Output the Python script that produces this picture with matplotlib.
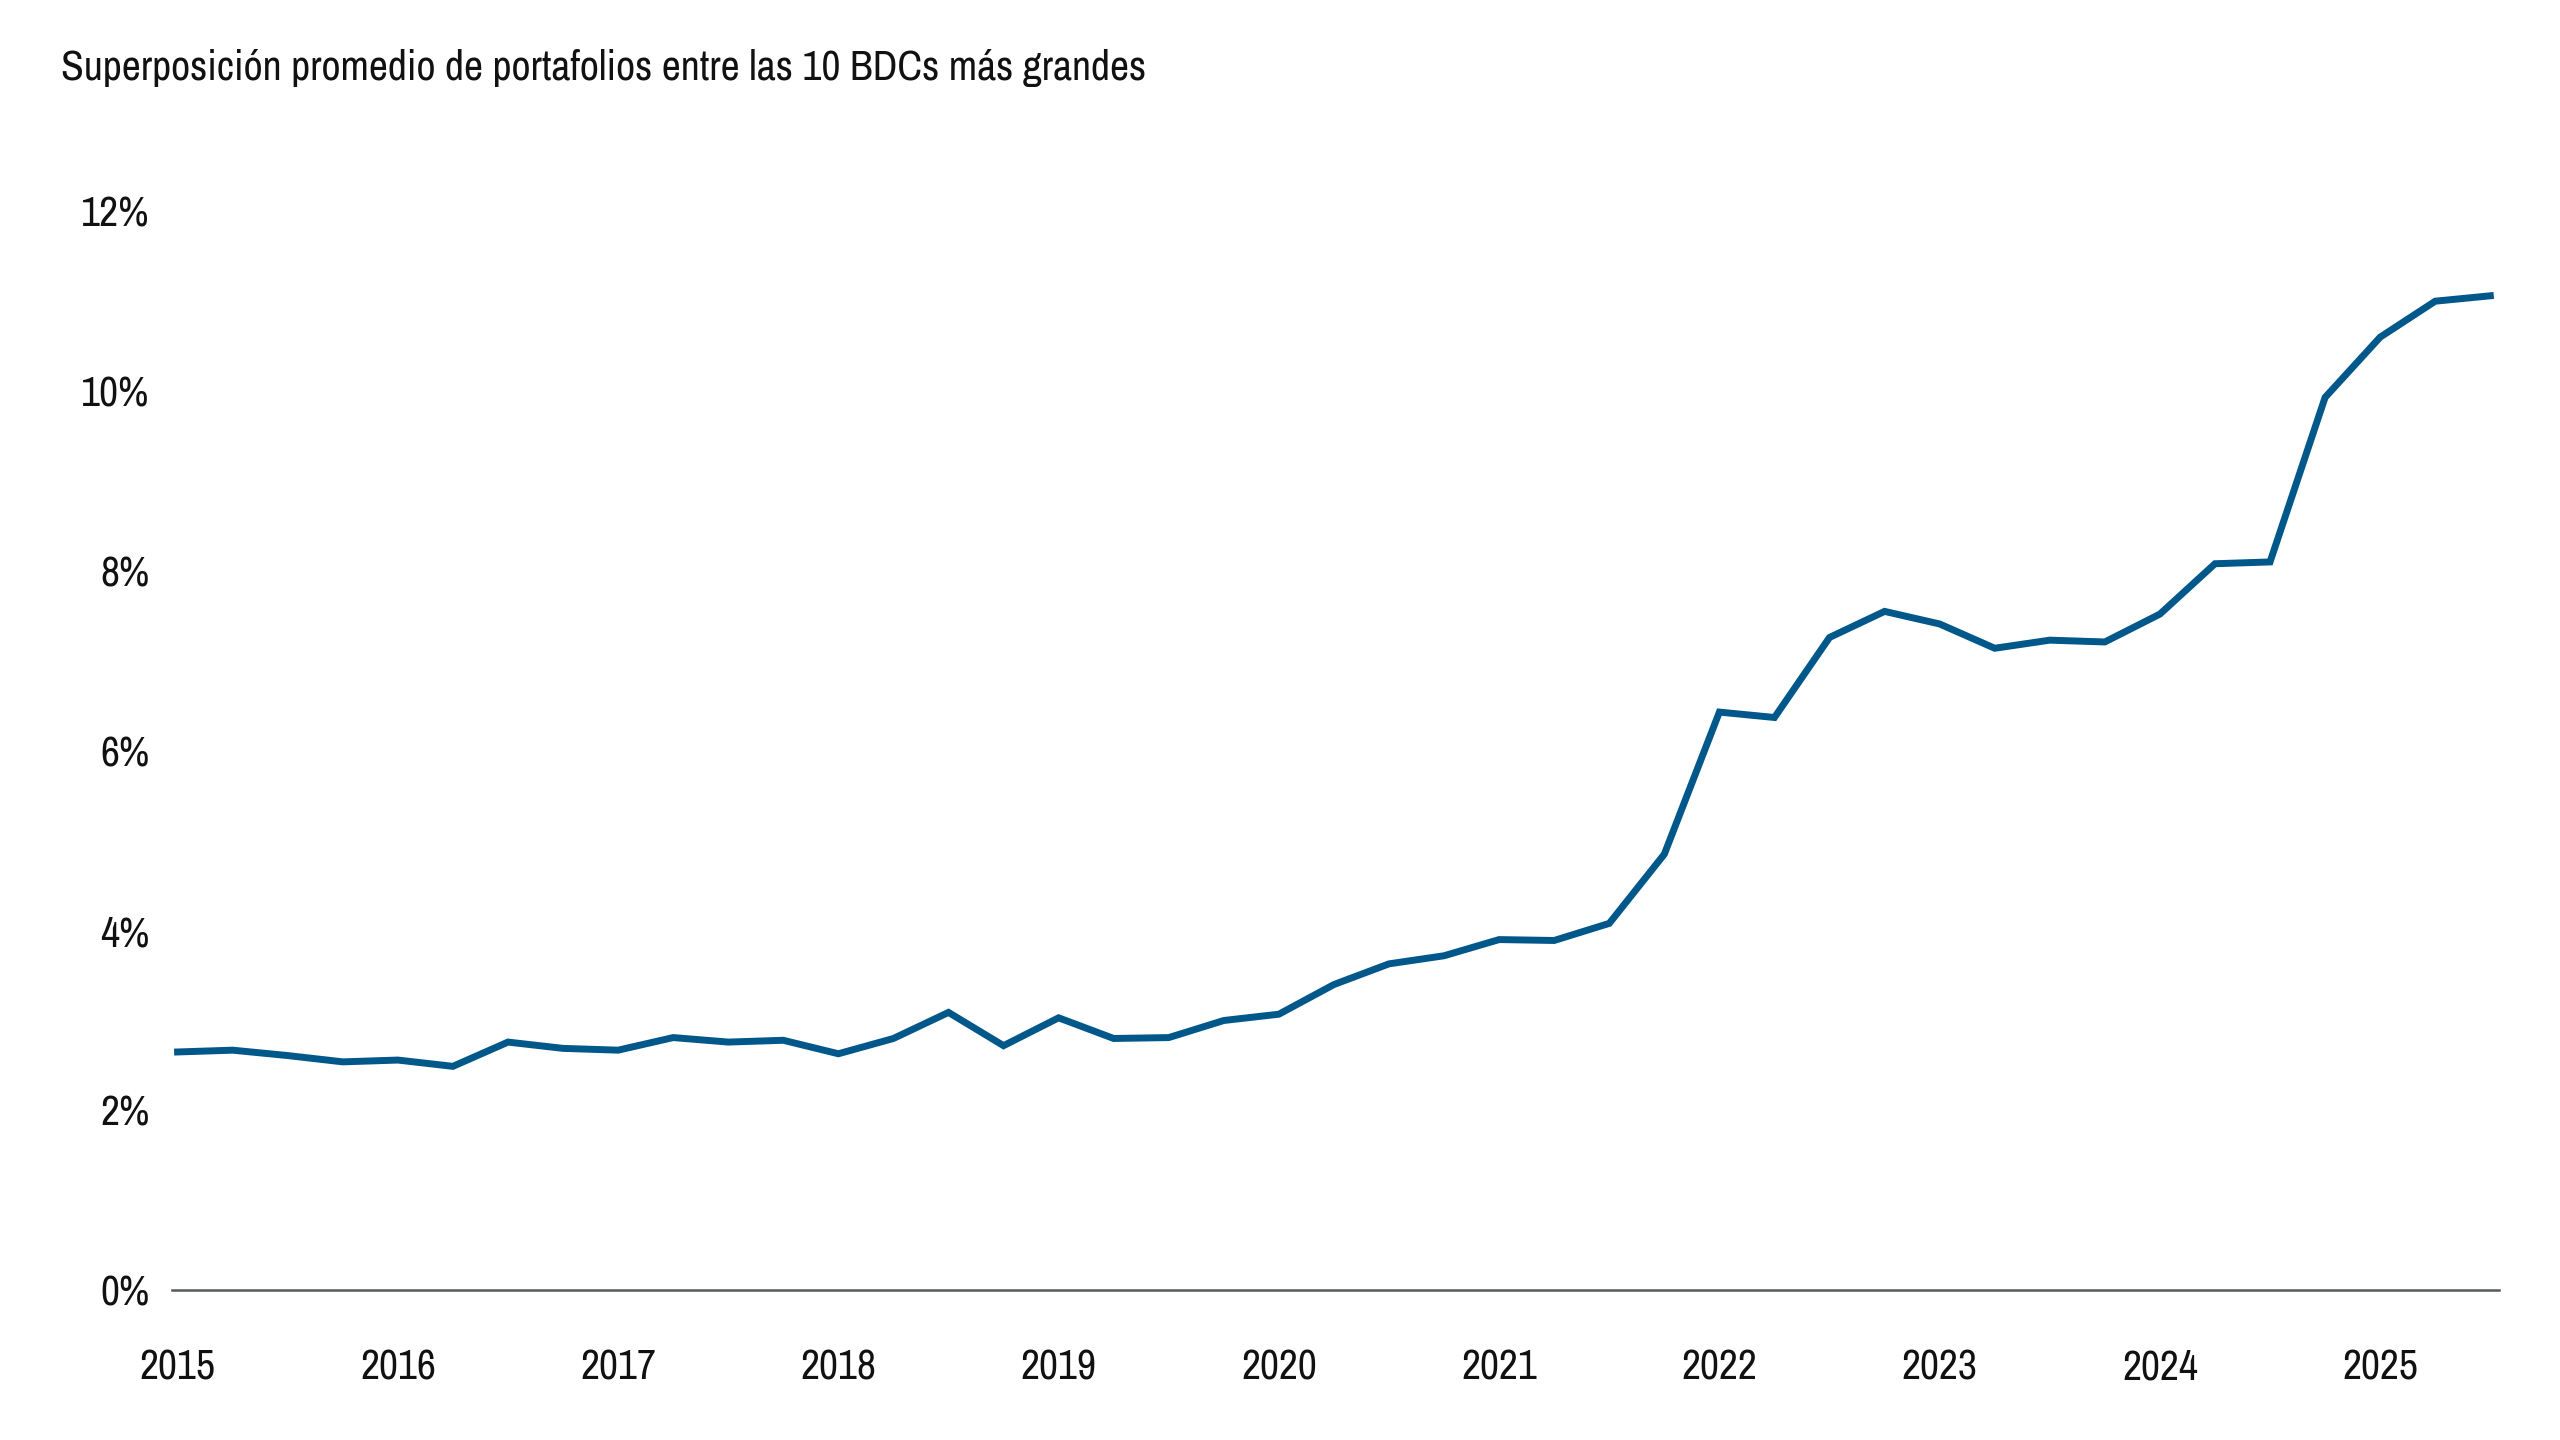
import numpy as np
import matplotlib
matplotlib.use('Agg')
import matplotlib.pyplot as plt
from matplotlib import font_manager
from matplotlib.ticker import FuncFormatter

# quarterly values, Q1 2015 .. Q3 2025 (in %)
quarters = np.arange(43)
overlap = [2.65, 2.67, 2.61, 2.54, 2.56, 2.49, 2.76, 2.69, 2.67, 2.81,
           2.76, 2.78, 2.63, 2.80, 3.09, 2.72, 3.03, 2.80, 2.81, 3.00,
           3.07, 3.40, 3.63, 3.72, 3.90, 3.89, 4.08, 4.85, 6.43, 6.37,
           7.26, 7.55, 7.41, 7.14, 7.23, 7.21, 7.52, 8.08, 8.10, 9.93,
           10.60, 11.00, 11.06]
years = ['2015', '2016', '2017', '2018', '2019', '2020', '2021', '2022', '2023', '2024', '2025']
yticks = [0, 2, 4, 6, 8, 10, 12]

title = 'Superposición promedio de portafolios entre las 10 BDCs más grandes'

# look for a narrow face, otherwise Roboto
names = sorted(set(f.name for f in font_manager.fontManager.ttflist))
narrow = [n for n in names if 'Narrow' in n or 'Condensed' in n]
fam = narrow[0] if narrow else 'Roboto'
plt.rcParams['font.family'] = [fam, 'DejaVu Sans']
fsize = 30 if narrow else 27

fig = plt.figure(figsize=(25.6, 14.4), dpi=100)
ax = fig.add_axes([0.067, 0.104, 0.909, 0.7805])

ax.plot(quarters, overlap, color='#00578a', lw=5, solid_joinstyle='miter')

ax.set_xlim(-0.11, 42.15)
ax.set_ylim(0, 12.5)
ax.set_xticks(np.arange(len(years)) * 4)
ax.set_xticklabels(years)
ax.set_yticks(yticks)
ax.yaxis.set_major_formatter(FuncFormatter(lambda v, p: '%d%%' % v))

for s in ['top', 'right', 'left']:
    ax.spines[s].set_visible(False)
ax.spines['bottom'].set_color('#555a5f')
ax.spines['bottom'].set_linewidth(1.8)
ax.tick_params(axis='both', length=0, labelsize=fsize, colors='#111111')
ax.tick_params(axis='y', pad=16)
ax.tick_params(axis='x', pad=42)
for lab in ax.get_xticklabels() + ax.get_yticklabels():
    lab.set_fontweight('light')

fig.text(0.024, 0.953, title, fontsize=fsize, color='#111111', va='center', ha='left')

fig.savefig('out.png', dpi=100, facecolor='white')
